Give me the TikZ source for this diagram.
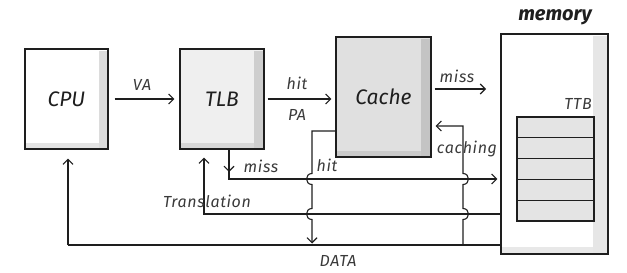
\documentclass[tikz,border=0pt]{standalone}
\usepackage{fontspec}
\setmainfont{Fira Sans}
\usetikzlibrary{arrows.meta,calc}
\definecolor{ink}{HTML}{1E1E1E}
\definecolor{lbl}{HTML}{3A3A3A}
\definecolor{cpushR}{HTML}{DCDCDC}
\definecolor{cpushB}{HTML}{E4E4E4}
\definecolor{tlbfill}{HTML}{EFEFEF}
\definecolor{tlbshR}{HTML}{CECECE}
\definecolor{tlbshB}{HTML}{D8D8D8}
\definecolor{cachefill}{HTML}{E0E0E0}
\definecolor{cacheshR}{HTML}{C4C4C4}
\definecolor{cacheshB}{HTML}{CBCBCB}
\definecolor{memshR}{HTML}{E6E6E6}
\definecolor{memshB}{HTML}{E8E8E8}
\definecolor{ttbfill}{HTML}{E4E4E4}
\tikzset{
  box/.style={draw=ink,line width=1.2pt,inner sep=0pt},
  arr/.style={draw=ink,line width=1.1pt,-{Straight Barb[length=5pt,width=10pt,line width=1.1pt]}},
  ln/.style={draw=ink,line width=1.1pt},
  big/.style={font=\fontsize{21}{21}\selectfont\itshape,text=ink},
  small/.style={font=\fontsize{16}{16}\selectfont\itshape\addfontfeature{LetterSpace=4},text=lbl},
}
\begin{document}
\begin{tikzpicture}[x=1pt,y=-1pt]
\useasboundingbox (0,0) rectangle (627,273);
% boxes
\node[box,fill=white,minimum width=83pt,minimum height=100pt] (cpu) at (66.5,99) {};
\fill[cpushR] ([xshift=-10pt,yshift=-3pt]cpu.north east) rectangle ([xshift=-0.6pt,yshift=0.6pt]cpu.south east);
\fill[cpushB] ([xshift=0.6pt,yshift=0.6pt]cpu.south west) rectangle ([xshift=-10pt,yshift=7pt]cpu.south east);
\node[box,minimum width=83pt,minimum height=100pt] at (cpu) {};
\node[big] at (cpu) {CPU};

\node[box,fill=tlbfill,minimum width=84pt,minimum height=100pt] (tlb) at (222,99) {};
\fill[tlbshR] ([xshift=-11pt,yshift=-3pt]tlb.north east) rectangle ([xshift=-0.6pt,yshift=0.6pt]tlb.south east);
\fill[tlbshB] ([xshift=0.6pt,yshift=0.6pt]tlb.south west) rectangle ([xshift=-11pt,yshift=7pt]tlb.south east);
\node[box,minimum width=84pt,minimum height=100pt] at (tlb) {};
\node[big] at (tlb) {TLB};

\node[box,fill=cachefill,minimum width=95pt,minimum height=120pt] (cache) at (383.5,97) {};
\fill[cacheshR] ([xshift=-11pt,yshift=-3pt]cache.north east) rectangle ([xshift=-0.6pt,yshift=0.6pt]cache.south east);
\fill[cacheshB] ([xshift=0.6pt,yshift=0.6pt]cache.south west) rectangle ([xshift=-11pt,yshift=7pt]cache.south east);
\node[box,minimum width=95pt,minimum height=120pt] at (cache) {};
\node[big] at (cache) {Cache};

\node[box,fill=white,minimum width=107pt,minimum height=220pt] (mem) at (554.5,144) {};
\fill[memshR] ([xshift=-16pt,yshift=-3pt]mem.north east) rectangle ([xshift=-0.6pt,yshift=0.6pt]mem.south east);
\fill[memshB] ([xshift=0.6pt,yshift=0.6pt]mem.south west) rectangle ([xshift=-16pt,yshift=8pt]mem.south east);
\node[box,minimum width=107pt,minimum height=220pt] at (mem) {};
\node[font=\fontsize{20}{20}\selectfont\bfseries\itshape,text=ink] (memlbl) at (555,17) {memory};

% TTB table
\foreach \i in {0,...,4}{
  \node[box,fill=ttbfill,minimum width=77pt,minimum height=20.8pt] (ttb\i) at (555.5,{127.4+20.8*\i}) {};
}
\node[small] at (578,104) {TTB};

% connectors
\draw[arr] ($(cpu.east)+(6,0)$) -- ($(tlb.west)+(-5,0)$);
\node[small] at (142,85) {VA};

\draw[arr] ($(tlb.east)+(3,0)$) -- ($(cache.west|-tlb.east)+(-4,0)$);
\node[small] at (297,83) {hit};
\node[small] at (297,115) {PA};

\coordinate (missend) at (486,89);
\draw[arr] ($(cache.east|-missend)+(3,0)$) -- (missend);
\node[small] at (457,76) {miss};

% data bus and connectors
\coordinate (cj) at (463,245);
\draw[ln] (mem.west|-cj) -- (68,245) coordinate (dl);
\draw[arr] (dl) -- ($(dl|-cpu.south)+(0,9)$);
\node[small] at (338,261) {DATA};

% caching: up from data bus to cache
\draw[arr] (cj) -- (463,219.5) .. controls (470.3,219.5) and (470.3,208.5) .. (463,208.5)
  -- (463,184.5) .. controls (470.3,184.5) and (470.3,173.5) .. (463,173.5)
  -- (463,126) -- ($(cache.east|-0,126)+(4,0)$);
\node[small] at (467,149) {caching};

% cache hit down to data bus
\draw[arr] (cache.west|-0,131) -- (312,131) -- (312,173.5) .. controls (304.7,173.5) and (304.7,184.5) .. (312,184.5)
  -- (312,208.5) .. controls (304.7,208.5) and (304.7,219.5) .. (312,219.5) -- (312,243.5);
\node[small] at (327,165) {hit};

% TLB miss
\draw[arr] (229,0|-tlb.south) -- (229,172);
\draw[arr] (229,171) -- (229,179) -- ($(mem.west|-0,179)+(-3,0)$);
\node[small] at (261,166) {miss};

% Translation
\draw[arr] (mem.west|-0,214) -- (204,214) -- ($(204,0|-tlb.south)+(0,8)$);
\node[small] at (207,201) {Translation};
\end{tikzpicture}
\end{document}
